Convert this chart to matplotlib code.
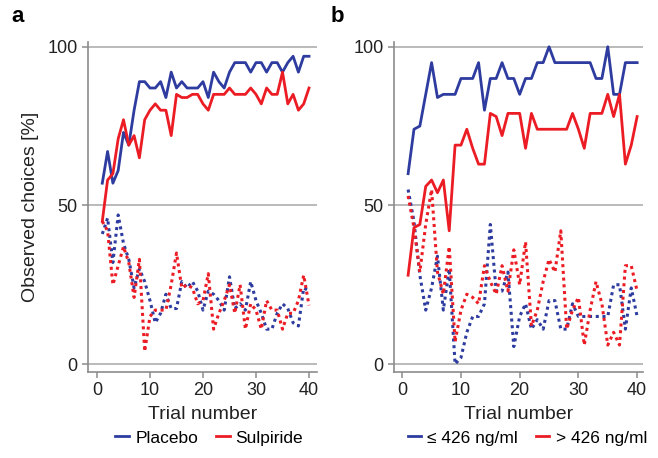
import numpy as np
import matplotlib
matplotlib.use("Agg")
import matplotlib.pyplot as plt
from matplotlib.lines import Line2D

plt.rcParams["font.family"] = ["Liberation Sans", "DejaVu Sans"]

trials = np.arange(1, 41)

# ── panel a : Placebo vs Sulpiride ───────────────────────────────────────────
placebo_solid = [57, 67, 57, 61, 73, 69, 80, 89, 89, 87, 87, 89, 84, 92, 87, 89, 87, 87, 87, 89,
                 84, 92, 89, 87, 92, 95, 95, 95, 92, 95, 95, 92, 95, 95, 92, 95, 97, 92, 97, 97]
sulpiride_solid = [45, 58, 60, 71, 77, 69, 72, 65, 77, 80, 82, 80, 80, 72, 85, 84, 84, 85, 85, 82,
                   80, 85, 85, 85, 87, 85, 85, 85, 87, 85, 82, 87, 85, 85, 92, 82, 85, 80, 82, 87]
placebo_dot = [41, 46, 32, 47, 38, 33, 24, 30, 26, 20, 13, 16, 22, 17.5, 17.5, 26, 24, 26, 23, 17,
               23, 22, 20, 17, 27.5, 17.5, 19, 17, 26, 20, 16, 11, 11, 16, 19, 17.5, 13, 12, 24, 23]
sulpiride_dot = [45, 42, 25, 31, 37, 32, 21, 33, 4, 15, 17, 17, 17, 25, 35, 24, 25, 24, 19, 20,
                 28.5, 11, 16, 20, 25, 16, 25, 11, 19, 17, 11, 20, 17, 17, 11, 16, 16, 20, 28, 18.5]

# ── panel b : concentration ≤ / > 426 ng/ml ─────────────────────────────────
low_solid = [60, 74, 75, 85, 95, 84, 85, 85, 85, 90, 90, 90, 95, 80, 90, 90, 95, 90, 90, 85,
             90, 90, 95, 95, 100, 95, 95, 95, 95, 95, 95, 95, 90, 90, 100, 85, 85, 95, 95, 95]
high_solid = [28, 43, 44, 56, 58, 54, 58, 42, 69, 69, 74, 68, 63, 63, 79, 78, 72, 79, 79, 79,
              68, 79, 74, 74, 74, 74, 74, 74, 79, 74, 68, 79, 79, 79, 85, 78, 85, 63, 69, 78]
low_dot = [55, 45, 28, 17, 24, 34, 17, 30, 0, 2, 10, 15, 15, 19, 44, 23, 23, 29, 5.5, 15,
           19, 11, 14, 11, 20, 20, 11, 11, 19, 15, 15, 15, 15, 15, 15, 25, 25, 11, 24, 15]
high_dot = [53, 43, 29, 44, 55, 29, 22, 37, 7, 17, 22, 21, 19, 31, 26, 22, 31, 23, 36, 25,
            38.5, 12, 17, 26, 33, 29, 42, 11, 17, 21, 6, 17, 26, 19, 6, 10, 6, 31, 31, 23]

BLUE = "#2e3ca0"
RED = "#ec1c24"
GRID = "#b4b4b4"

fig = plt.figure(figsize=(6.58, 4.58), dpi=100)
ax_a = fig.add_axes([0.1337, 0.1878, 0.348, 0.7205])
ax_b = fig.add_axes([0.5988, 0.1878, 0.3784, 0.7205])

panels = [
    (ax_a, placebo_solid, sulpiride_solid, placebo_dot, sulpiride_dot,
     ["Placebo", "Sulpiride"], (-1.7, 41.5), "a", 0.53),
    (ax_b, low_solid, high_solid, low_dot, high_dot,
     ["≤ 426 ng/ml", "> 426 ng/ml"], (-1.4, 41.0), "b", 0.535),
]

for ax, bs, rs, bd, rd, names, xl, tag, leg_x in panels:
    for y in (0, 50, 100):
        ax.axhline(y, color=GRID, lw=1.3, zorder=0)
    ax.plot(trials, bd, color=BLUE, lw=2.2, ls=(0, (1, 1.2)))
    ax.plot(trials, rd, color=RED, lw=2.2, ls=(0, (1, 1.2)))
    ax.plot(trials, bs, color=BLUE, lw=2.0)
    ax.plot(trials, rs, color=RED, lw=2.0)
    ax.set_xlim(*xl)
    ax.set_ylim(-2.5, 101.5)
    ax.set_xticks([0, 10, 20, 30, 40])
    ax.set_yticks([0, 50, 100])
    for s in ("top", "right"):
        ax.spines[s].set_visible(False)
    for s in ("left", "bottom"):
        ax.spines[s].set_color("#8c8c8c")
        ax.spines[s].set_linewidth(1.2)
    ax.tick_params(colors="#8c8c8c", labelcolor="#222222", labelsize=13,
                   length=4, width=1.1)
    ax.set_xlabel("Trial number", fontsize=14, color="#222222", labelpad=5)
    handles = [Line2D([], [], color=BLUE, lw=2.0), Line2D([], [], color=RED, lw=2.0)]
    ax.legend(handles, names, loc="center", bbox_to_anchor=(leg_x, -0.2),
              ncol=2, frameon=False, fontsize=12.5, handlelength=0.8,
              handletextpad=0.35, columnspacing=1.0)

ax_a.set_ylabel("Observed choices [%]", fontsize=14, color="#222222", labelpad=6)

fig.text(0.018, 0.965, "a", fontsize=16, fontweight="bold", va="center")
fig.text(0.503, 0.965, "b", fontsize=16, fontweight="bold", va="center")

fig.savefig("out.png", dpi=100)
